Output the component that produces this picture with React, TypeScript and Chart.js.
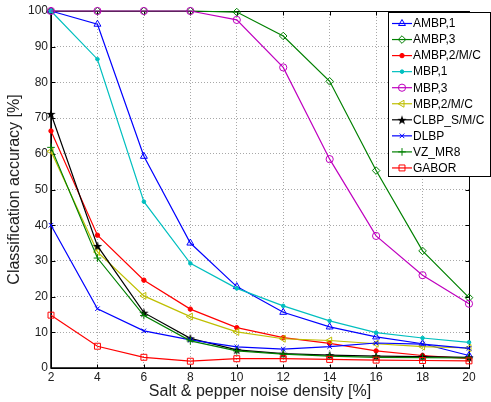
import React, { useEffect, useRef } from 'react';
import { Chart, registerables } from 'chart.js';
import { drawPoint } from 'chart.js/helpers';

Chart.register(...registerables);

// ---- data ----
const noiseDensity = [2, 4, 6, 8, 10, 12, 14, 16, 18, 20];
const ambp1 = [100, 96.3, 59.3, 35.0, 22.8, 15.6, 11.5, 8.7, 6.8, 3.5];
const ambp3 = [100, 100, 100, 100, 99.7, 93.0, 80.3, 55.3, 32.8, 19.7];
const ambp2mc = [66.4, 37.2, 24.6, 16.5, 11.3, 8.5, 6.9, 4.8, 3.5, 2.6];
const mbp1 = [100, 86.5, 46.6, 29.3, 22.3, 17.4, 13.2, 9.9, 8.4, 7.2];
const mbp3 = [100, 100, 100, 100, 97.5, 84.2, 58.5, 37.0, 26.0, 18.0];
const mbp2mc = [60.7, 32.5, 20.2, 14.4, 10.1, 8.2, 7.7, 6.8, 6.0, 5.6];
const clbp = [71.2, 34.2, 15.5, 8.3, 5.1, 4.0, 3.6, 3.3, 3.2, 3.0];
const dlbp = [40.0, 16.6, 10.4, 7.9, 5.9, 5.3, 6.0, 7.0, 6.7, 5.5];
const vzmr8 = [61.8, 30.8, 14.7, 7.6, 4.8, 3.9, 3.3, 3.0, 2.9, 2.8];
const gabor = [14.8, 6.1, 3.0, 1.9, 2.6, 2.6, 2.4, 2.2, 2.1, 2.0];

const seriesLabels = ['AMBP,1', 'AMBP,3', 'AMBP,2/M/C', 'MBP,1', 'MBP,3', 'MBP,2/M/C', 'CLBP_S/M/C', 'DLBP', 'VZ_MR8', 'GABOR'];
const seriesValues = [ambp1, ambp3, ambp2mc, mbp1, mbp3, mbp2mc, clbp, dlbp, vzmr8, gabor];
const xTickValues = [2, 4, 6, 8, 10, 12, 14, 16, 18, 20];
const yTickValues = [0, 10, 20, 30, 40, 50, 60, 70, 80, 90, 100];

const xTitle = 'Salt & pepper noise density [%]';
const yTitle = 'Classification accuracy [%]';

const FONT = '"Liberation Sans", Arial, Helvetica, sans-serif';

function makeStar(size: number): HTMLCanvasElement {
  const c = document.createElement('canvas');
  c.width = size;
  c.height = size;
  const g = c.getContext('2d')!;
  g.beginPath();
  for (let i = 0; i < 10; i++) {
    const r = i % 2 === 0 ? size / 2 : size * 0.2;
    const a = -Math.PI / 2 + (i * Math.PI) / 5;
    g.lineTo(size / 2 + r * Math.cos(a), size / 2 + r * Math.sin(a) + 0.5);
  }
  g.closePath();
  g.fillStyle = '#000';
  g.fill();
  return c;
}

export default function App() {
  const ref = useRef<HTMLCanvasElement | null>(null);

  useEffect(() => {
    if (!ref.current) return;
    const star = makeStar(10);
    const styles: any[] = [
      { color: '#0000ff', pointStyle: 'triangle', radius: 4, fill: false, rot: 0 },
      { color: '#008000', pointStyle: 'rectRot', radius: 3.8, fill: false, rot: 0 },
      { color: '#ff0000', pointStyle: 'circle', radius: 2.2, fill: true, rot: 0 },
      { color: '#00bfbf', pointStyle: 'circle', radius: 1.8, fill: true, rot: 0 },
      { color: '#bf00bf', pointStyle: 'circle', radius: 3.6, fill: false, rot: 0 },
      { color: '#bfbf00', pointStyle: 'triangle', radius: 4, fill: false, rot: -90 },
      { color: '#000000', pointStyle: star, radius: 5, fill: true, rot: 0 },
      { color: '#0000ff', pointStyle: 'crossRot', radius: 3.2, fill: false, rot: 0 },
      { color: '#008000', pointStyle: 'cross', radius: 3.8, fill: false, rot: 0 },
      { color: '#ff0000', pointStyle: 'rect', radius: 4.2, fill: false, rot: 0 },
    ];

    const datasets = seriesLabels.map((label, i) => ({
      label,
      data: noiseDensity.map((x, j) => ({ x, y: seriesValues[i][j] })),
      borderColor: styles[i].color,
      backgroundColor: styles[i].fill ? styles[i].color : 'rgba(0,0,0,0)',
      pointBorderColor: styles[i].color,
      pointBackgroundColor: styles[i].fill ? styles[i].color : 'rgba(0,0,0,0)',
      pointStyle: styles[i].pointStyle,
      pointRadius: styles[i].radius,
      pointRotation: styles[i].rot,
      pointBorderWidth: 1,
      borderWidth: 1.2,
      tension: 0,
      fill: false,
      clip: false as any,
      order: 10 - i,
    }));

    const framePlugin = {
      id: 'frame',
      beforeDatasetsDraw(chart: any) {
        const { ctx, chartArea: a, scales } = chart;
        const xs = scales.x;
        const ys = scales.y;
        const L = Math.round(a.left) + 0.5;
        const R = Math.round(a.right) + 0.5;
        const T = Math.round(a.top) + 0.5;
        const B = Math.round(a.bottom) + 0.5;
        ctx.save();
        ctx.strokeStyle = '#000';
        ctx.lineWidth = 1;
        ctx.beginPath();
        ctx.rect(L, T, R - L, B - T);
        ctx.stroke();
        ctx.beginPath();
        yTickValues.forEach((v) => {
          const p = Math.round(ys.getPixelForValue(v)) + 0.5;
          ctx.moveTo(L, p);
          ctx.lineTo(L + 4, p);
          ctx.moveTo(R, p);
          ctx.lineTo(R - 4, p);
        });
        xTickValues.forEach((v) => {
          const p = Math.round(xs.getPixelForValue(v)) + 0.5;
          ctx.moveTo(p, B);
          ctx.lineTo(p, B - 4);
          ctx.moveTo(p, T);
          ctx.lineTo(p, T + 4);
        });
        ctx.stroke();
        // thicker left axis line like reference
        ctx.lineWidth = 1.5;
        ctx.beginPath();
        ctx.moveTo(a.left, a.top);
        ctx.lineTo(a.left, a.bottom);
        ctx.lineTo(a.right, a.bottom);
        ctx.stroke();
        ctx.restore();
      },
    };

    const legendPlugin = {
      id: 'customLegend',
      afterDraw(chart: any) {
        const { ctx } = chart;
        const bx = 388.5;
        const by = 12.5;
        const bw = 102;
        const bh = 164;
        ctx.save();
        ctx.fillStyle = '#fff';
        ctx.fillRect(bx, by, bw, bh);
        ctx.strokeStyle = '#000';
        ctx.lineWidth = 1;
        ctx.strokeRect(bx, by, bw, bh);
        ctx.font = `12px ${FONT}`;
        ctx.textBaseline = 'middle';
        ctx.textAlign = 'left';
        seriesLabels.forEach((label, i) => {
          const yy = 23.5 + i * 16.05;
          const st = styles[i];
          ctx.strokeStyle = st.color;
          ctx.lineWidth = 1.2;
          ctx.beginPath();
          ctx.moveTo(392, yy);
          ctx.lineTo(412, yy);
          ctx.stroke();
          ctx.lineWidth = 1;
          ctx.fillStyle = st.fill ? st.color : 'rgba(0,0,0,0)';
          drawPoint(ctx, { pointStyle: st.pointStyle, rotation: st.rot, radius: st.radius, borderWidth: 1 } as any, 402, yy);
          ctx.fillStyle = '#000';
          ctx.fillText(label, 413, yy + 0.5);
        });
        ctx.restore();
      },
    };

    const chart = new Chart(ref.current, {
      type: 'line',
      data: { datasets: datasets as any },
      options: {
        animation: false,
        responsive: false,
        events: [],
        layout: { padding: { top: 11, right: 22, bottom: 0, left: 0 } },
        plugins: {
          legend: { display: false },
          tooltip: { enabled: false },
          title: { display: false },
        },
        scales: {
          x: {
            type: 'linear',
            min: 2,
            max: 20,
            afterBuildTicks: (scale: any) => {
              scale.ticks = xTickValues.map((v) => ({ value: v }));
            },
            afterFit: (scale: any) => {
              scale.height = 34;
            },
            ticks: {
              font: { family: FONT, size: 12 },
              color: '#222',
              padding: 2,
              maxRotation: 0,
              autoSkip: false,
            },
            grid: { color: '#a8a8a8', lineWidth: 1, drawTicks: false },
            border: { display: false, dash: [1, 2] },
            title: {
              display: true,
              text: xTitle,
              font: { family: FONT, size: 16 },
              color: '#222',
              padding: { top: 0, bottom: 1 },
            },
          },
          y: {
            type: 'linear',
            min: 0,
            max: 100,
            afterBuildTicks: (scale: any) => {
              scale.ticks = yTickValues.map((v) => ({ value: v }));
            },
            afterFit: (scale: any) => {
              scale.width = 51;
            },
            ticks: {
              font: { family: FONT, size: 12 },
              color: '#222',
              padding: 3,
              autoSkip: false,
            },
            grid: { color: '#a8a8a8', lineWidth: 1, drawTicks: false },
            border: { display: false, dash: [1, 2] },
            title: {
              display: true,
              text: yTitle,
              font: { family: FONT, size: 16 },
              color: '#222',
              padding: { top: 5, bottom: 0 },
            },
          },
        },
      },
      plugins: [framePlugin, legendPlugin],
    });
    return () => chart.destroy();
  }, []);

  return (
    <div style={{ position: 'absolute', left: 0, top: 0, width: 491, height: 402, background: '#fff' }}>
      <canvas ref={ref} width={491} height={402} style={{ display: 'block', width: 491, height: 402 }} />
    </div>
  );
}
